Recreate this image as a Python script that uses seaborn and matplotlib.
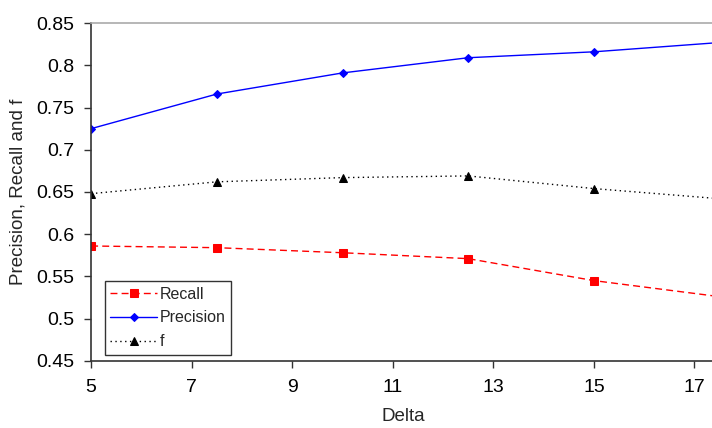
import matplotlib
matplotlib.use("Agg")
import matplotlib.pyplot as plt
import seaborn as sns
import pandas as pd

# values
delta = [5, 7.5, 10, 12.5, 15, 17.5]
recall = [0.586, 0.584, 0.578, 0.571, 0.545, 0.526]
precision = [0.725, 0.766, 0.791, 0.809, 0.816, 0.827]
f_score = [0.648, 0.662, 0.667, 0.669, 0.654, 0.642]

sns.set_style("white")
plt.rcParams['font.family'] = ['Liberation Sans', 'DejaVu Sans']

fig = plt.figure(figsize=(7.12, 4.28), dpi=100)
ax = fig.add_axes([0.128, 0.157, 0.877, 0.789])

styles = [
    ("Recall", recall, "red", (0, (5, 3)), "s", 5.5),
    ("Precision", precision, "blue", "-", "D", 4.5),
    ("f", f_score, "black", (0, (1, 2.5)), "^", 6),
]
for name, vals, col, ls, mk, ms in styles:
    df = pd.DataFrame({"Delta": delta, "val": vals})
    sns.lineplot(data=df, x="Delta", y="val", ax=ax, color=col, linestyle=ls,
                 linewidth=1, marker=mk, markersize=ms, markeredgecolor=col,
                 label=name, clip_on=True)

ax.set_xlim(5, 17.42)
ax.set_ylim(0.45, 0.85)
ax.set_xticks([5, 7, 9, 11, 13, 15, 17])
ax.set_yticks([0.45, 0.5, 0.55, 0.6, 0.65, 0.7, 0.75, 0.8, 0.85])
ax.set_yticklabels(["0.45", "0.5", "0.55", "0.6", "0.65", "0.7", "0.75", "0.8", "0.85"])
ax.tick_params(axis="both", direction="out", length=5, width=1, colors="#333333",
               labelsize=14, labelcolor="black", bottom=True, left=True)
ax.tick_params(axis="x", pad=8)
ax.tick_params(axis="y", pad=7)
ax.set_xlabel("Delta", fontsize=13.5, labelpad=9)
ax.set_ylabel("Precision, Recall and f", fontsize=13.5, labelpad=7)

for s in ["left", "bottom"]:
    ax.spines[s].set_color("#333333")
    ax.spines[s].set_linewidth(1.2)
ax.spines["top"].set_color("#aaaaaa")
ax.spines["top"].set_linewidth(1.2)
ax.spines["right"].set_visible(False)

leg = ax.legend(loc="lower left", bbox_to_anchor=(0.022, 0.018), fontsize=11.5,
                frameon=True, fancybox=False, handlelength=2.9, handletextpad=0.2,
                borderpad=0.35, labelspacing=0.55, borderaxespad=0)
leg.get_frame().set_edgecolor("black")
leg.get_frame().set_linewidth(1)

fig.savefig("out.png", dpi=100)
